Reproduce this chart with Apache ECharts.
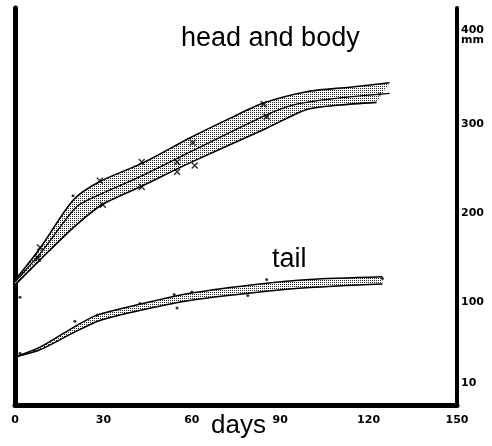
<!DOCTYPE html>
<html>
<head>
<meta charset="utf-8">
<script src="https://cdn.jsdelivr.net/npm/echarts@6/dist/echarts.min.js"></script>
<style>
  html, body { margin: 0; padding: 0; background: #fff; }
</style>
</head>
<body>
<div id="chart" style="width: 492px;height:446px;"></div>
<script>
// x ticks (days) and right axis labels (mm)
var dayTicks = [0, 30, 60, 90, 120, 150];
var mmTicks = [10, 100, 200, 300, 400];

// head and body band: [day, mm]
var headUpper = [[0, 125], [8.5, 161], [19.7, 215], [28.8, 236], [43.4, 257], [59.3, 285], [72.9, 307], [84.1, 324], [99, 337], [113.6, 342], [127.1, 347]];
var headMiddle = [[0, 123], [9.5, 159], [21, 208], [30.5, 224], [43.4, 243], [59.3, 269], [85.4, 311], [95.6, 323], [110.2, 330], [127.1, 335]];
var headLower = [[0, 120], [8.5, 148], [19.7, 184], [29.5, 210], [43.1, 231], [59.3, 257], [85.4, 296], [99, 317], [110.2, 322], [122.7, 325]];
var headMarks = [[7.8, 150], [8.5, 162], [28.8, 237], [29.8, 210], [43, 258], [43, 230], [55, 258], [55, 247], [60.3, 280], [61, 254], [84.4, 323], [85.4, 309]];
var headDots = [[1.7, 106], [19.7, 220], [123.7, 334]];

// tail band: [day, mm]
var tailUpper = [[0, 39], [8.5, 50], [19.7, 72], [27.8, 86], [43.4, 99], [60.3, 111], [83.1, 121], [100, 126], [124.7, 129]];
var tailLower = [[0, 39], [8.5, 47], [19.7, 66], [28.8, 80], [43.4, 92], [60.3, 103], [83.1, 112], [100, 117], [124.7, 121]];
var tailDots = [[1.7, 43], [20.3, 79], [28, 86], [42.4, 99], [54, 109], [55, 94], [60, 112], [79, 108], [85.4, 126], [124.7, 127]];

var myChart = echarts.init(document.getElementById("chart"));

// stipple texture for the bands
var pc = document.createElement("canvas");
pc.width = 2;
pc.height = 2;
var pctx = pc.getContext("2d");
pctx.fillStyle = "#ffffff";
pctx.fillRect(0, 0, 2, 2);
pctx.fillStyle = "#222222";
pctx.fillRect(0, 0, 1, 1);
var stipple = { image: pc, repeat: "repeat" };

function bandSeries(upper, lower) {
  return {
    type: "custom",
    coordinateSystem: "cartesian2d",
    silent: true,
    z: 1,
    data: [0],
    renderItem: function(params, api) {
      var pts = [];
      upper.forEach(function(p) { pts.push(api.coord(p)); });
      lower.slice().reverse().forEach(function(p) { pts.push(api.coord(p)); });
      return {
        type: "polygon",
        shape: { points: pts },
        style: { fill: stipple, stroke: null }
      };
    }
  };
}

function lineSeries(data, width) {
  return {
    type: "line",
    data: data,
    smooth: 0.25,
    symbol: "none",
    silent: true,
    z: 3,
    lineStyle: { color: "#000", width: width }
  };
}

var cross = "path://M0,0L10,10M10,0L0,10";

var option = {
  animation: false,
  backgroundColor: "#fff",
  grid: { left: 15, right: 35, top: 8, bottom: 41, containLabel: false, outerBoundsMode: "none" },
  xAxis: {
    type: "value",
    min: 0,
    max: 150,
    interval: 30,
    axisLine: { show: true, onZero: false, lineStyle: { color: "#000", width: 5 } },
    axisTick: { show: false },
    splitLine: { show: false },
    axisLabel: {
      margin: 10,
      color: "#000",
      fontFamily: "DejaVu Sans",
      fontWeight: "bold",
      fontSize: 11,
      customValues: dayTicks
    }
  },
  yAxis: [
    {
      type: "value",
      position: "left",
      min: -15,
      max: 431,
      axisLine: { show: true, onZero: false, lineStyle: { color: "#000", width: 5 } },
      axisTick: { show: false },
      axisLabel: { show: false },
      splitLine: { show: false }
    },
    {
      type: "value",
      position: "right",
      min: -15,
      max: 431,
      axisLine: { show: true, onZero: false, lineStyle: { color: "#000", width: 4 } },
      axisTick: { show: false },
      splitLine: { show: false },
      axisLabel: {
        margin: 4,
        color: "#000",
        fontFamily: "DejaVu Sans",
        fontWeight: "bold",
        fontSize: 11,
        lineHeight: 10,
        customValues: mmTicks,
        formatter: function(v) {
          return v === 400 ? "400\nmm" : String(v);
        }
      }
    }
  ],
  graphic: [
    {
      type: "text",
      left: 181,
      top: 25,
      style: { text: "head and body", font: '27px "Liberation Sans"', fill: "#000" }
    },
    {
      type: "text",
      left: 272,
      top: 246,
      style: { text: "tail", font: '27px "Liberation Sans"', fill: "#000" }
    },
    {
      // x axis title
      type: "text",
      left: 211,
      top: 413,
      style: { text: "days", font: '26px "Liberation Sans"', fill: "#000" }
    }
  ],
  series: [
    bandSeries(headUpper, headLower),
    bandSeries(tailUpper, tailLower),
    lineSeries(headUpper, 1.6),
    lineSeries(headMiddle, 1.3),
    lineSeries(headLower, 1.6),
    lineSeries(tailUpper, 1.5),
    lineSeries(tailLower, 1.5),
    {
      type: "scatter",
      data: headMarks,
      symbol: cross,
      symbolSize: 6,
      z: 4,
      itemStyle: { color: "none", borderColor: "#000", borderWidth: 1.5 }
    },
    {
      type: "scatter",
      data: headDots.concat(tailDots),
      symbolSize: 3,
      z: 4,
      itemStyle: { color: "#000" }
    }
  ]
};
myChart.setOption(option);
</script>
</body>
</html>
